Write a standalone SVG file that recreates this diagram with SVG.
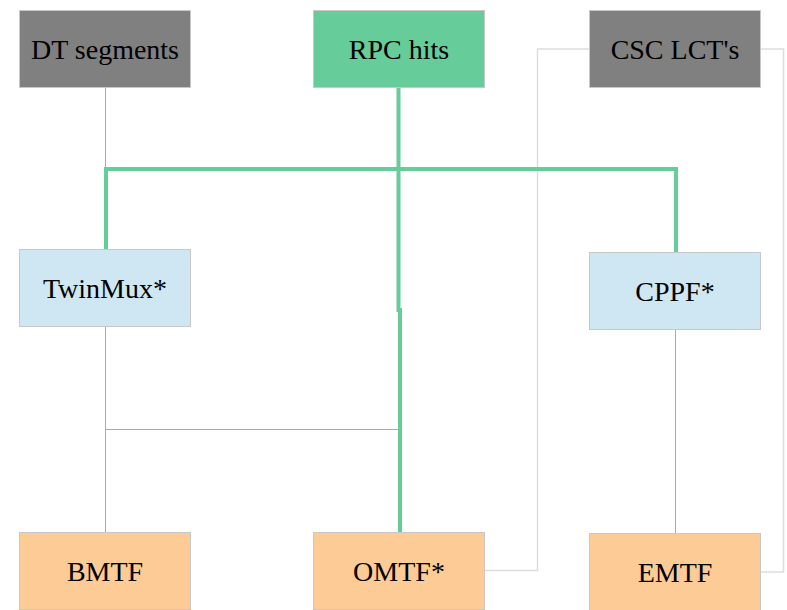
<svg xmlns="http://www.w3.org/2000/svg" width="787" height="610" viewBox="0 0 787 610">
<style>
.box{stroke:#c8c8c8;stroke-width:1}
.src{fill:#808080}
.rpc{fill:#66CC99}
.mid{fill:#CFE6F3}
.tf{fill:#FDCB96}
.t{font-family:'Liberation Serif','Times New Roman',serif;font-size:28px;fill:#000;text-anchor:middle}
.g{fill:none;stroke:#66CC99;stroke-width:4}
.k{fill:none;stroke:#aaaaaa;stroke-width:1}
.l{fill:none;stroke:#dddddd;stroke-width:1.5}
</style>
<rect width="787" height="610" fill="#fff"/>
<g id="connectors">
<path class="k" d="M105.5,87 V169"/>
<path class="k" d="M105.5,327 V532"/>
<path class="k" d="M105.5,429.5 H398"/>
<path class="k" d="M675.5,329 V533"/>
<path class="l" d="M589,49 H537.5 V570.5 H485"/>
<path class="l" d="M761,49 H783.5 V572 H761"/>
<path class="g" d="M106,249 V169 H676 V252"/>
<path class="g" d="M398.5,87 V310 H400 V532"/>
</g>
<g id="dt"><rect class="box src" x="19.5" y="10.5" width="171" height="77"/><text class="t" x="105" y="59">DT segments</text></g>
<g id="rpc"><rect class="box rpc" x="313.5" y="10.5" width="171" height="77"/><text class="t" x="399" y="59">RPC hits</text></g>
<g id="csc"><rect class="box src" x="589.5" y="10.5" width="171" height="77"/><text class="t" x="675" y="59">CSC LCT's</text></g>
<g id="twinmux"><rect class="box mid" x="19.5" y="249.5" width="171" height="77"/><text class="t" x="105" y="298">TwinMux*</text></g>
<g id="cppf"><rect class="box mid" x="589.5" y="252.5" width="171" height="77"/><text class="t" x="675" y="301">CPPF*</text></g>
<g id="bmtf"><rect class="box tf" x="19.5" y="532.5" width="171" height="77"/><text class="t" x="105" y="581">BMTF</text></g>
<g id="omtf"><rect class="box tf" x="313.5" y="532.5" width="171" height="77"/><text class="t" x="399" y="581">OMTF*</text></g>
<g id="emtf"><rect class="box tf" x="589.5" y="533.5" width="171" height="77"/><text class="t" x="675" y="582">EMTF</text></g>
</svg>
